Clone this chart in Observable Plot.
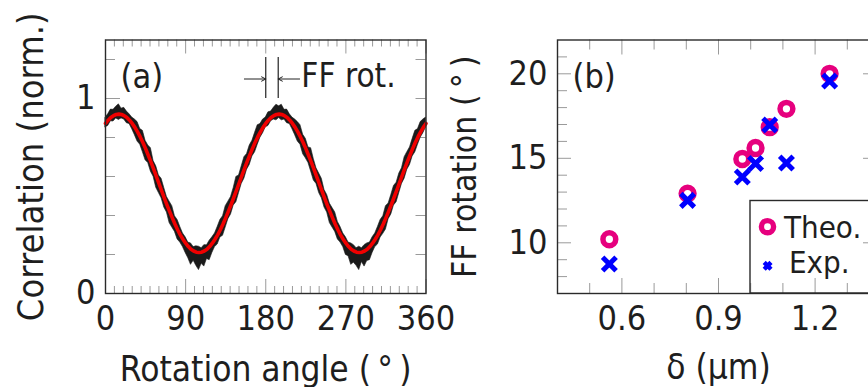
<!DOCTYPE html>
<html><head><meta charset="utf-8">
<script src="https://cdn.jsdelivr.net/npm/d3@7"></script>
<script src="https://cdn.jsdelivr.net/npm/@observablehq/plot@0.6"></script>
<style>
html,body{margin:0;padding:0;background:#fff;}
#wrap{position:relative;width:868px;height:387px;overflow:hidden;background:#fff;}
#pa,#pb,#leg{position:absolute;top:0;}
#pa{left:0;width:460px;height:387px;}
#pb{left:440px;width:460px;height:387px;}
#leg{left:0;width:868px;height:387px;pointer-events:none;}
svg{max-width:none !important;}
</style></head><body>
<div id="wrap"><div id="pa"></div><div id="pb"></div><svg id="leg" width="868" height="387"></svg></div>
<script>
// ---------- Panel (a) data ----------
const angleStep = 3; // sampling of rotation angle (deg)
const fitCorr = [
 0.872,0.889,0.903,0.912,0.918,0.920,0.918,0.912,0.903,0.889,
 0.872,0.852,0.829,0.803,0.774,0.743,0.709,0.675,0.639,0.602,
 0.565,0.528,0.491,0.455,0.421,0.388,0.356,0.327,0.301,0.278,
 0.258,0.241,0.227,0.218,0.212,0.210,0.212,0.218,0.227,0.241,
 0.258,0.278,0.301,0.327,0.356,0.388,0.421,0.455,0.491,0.528,
 0.565,0.602,0.639,0.675,0.709,0.743,0.774,0.803,0.829,0.852,
 0.872,0.889,0.903,0.912,0.918,0.920,0.918,0.912,0.903,0.889,
 0.872,0.852,0.829,0.803,0.774,0.743,0.709,0.675,0.639,0.602,
 0.565,0.528,0.491,0.455,0.421,0.388,0.356,0.327,0.301,0.278,
 0.258,0.241,0.227,0.218,0.212,0.210,0.212,0.218,0.227,0.241,
 0.258,0.278,0.301,0.327,0.356,0.388,0.421,0.455,0.491,0.528,
 0.565,0.602,0.639,0.675,0.709,0.743,0.774,0.803,0.829,0.852,
 0.872];
// measured-data spread above / below the fit (hundredths)
const spreadUp = [
 3,3,4,3,4,5,3,4,3,3,3,
 4,5,4,6,4,5,7,4,5,4,6,5,4,5,6,4,5,4,3,
 3,2,3,2,3,3,2,3,2,3,3,
 3,4,5,4,6,5,4,5,7,4,5,6,4,5,4,5,6,4,4,
 3,4,3,4,5,4,5,3,4,3,3,
 4,5,6,4,5,4,7,5,4,5,6,4,5,4,5,6,4,4,3,
 3,2,3,3,2,3,2,3,3,2,3,
 3,4,5,4,6,4,5,6,4,5,4,6,5,4,5,6,4,5,4,
 3];
const spreadDn = [
 2,3,2,3,2,3,2,2,3,2,3,
 4,5,4,5,6,4,5,4,6,5,4,5,4,6,5,4,5,4,4,
 5,6,8,5,7,9,6,8,5,7,5,
 4,5,4,6,5,4,5,4,6,5,4,5,4,5,4,5,4,3,3,
 2,3,2,2,3,2,3,2,3,2,3,
 4,5,4,6,5,4,5,6,4,5,4,5,4,6,5,4,5,4,4,
 6,5,8,6,7,9,5,8,6,7,5,
 4,5,4,5,6,4,5,4,6,5,4,5,4,5,4,5,4,3,3,
 2];
const xTickLabelsA = [0, 90, 180, 270, 360];
const yTickLabelsA = [0, 1];
const ffLines = [180, 194];            // far-field rotation markers (deg)
const ffArrows = [{x1: 156, x2: 180}, {x1: 218, x2: 194}];

// ---------- Panel (b) data ----------
const delta = [0.561, 0.804, 0.974, 1.015, 1.059, 1.111, 1.245];
const theo  = [10.21, 12.91, 14.96, 15.61, 16.84, 17.93, 20.00];
const expv  = [8.75, 12.51, 13.89, 14.69, 16.97, 14.72, 19.57];
const xTickLabelsB = [0.6, 0.9, 1.2];
const yTickLabelsB = [10, 15, 20];

const FONT = "DejaVu Sans Condensed, DejaVu Sans, sans-serif";
const TXT = "#1e1e1e", TICK = "#9a9a9a", FRAME = "#2a2a2a";
const MAG = "#e6007e", BLUE = "#0000ff";
const fmt = d => String(d);

// ---------- Panel (a) ----------
const rowsA = fitCorr.map((f, i) => ({
  a: i * angleStep, fit: f, hi: f + spreadUp[i] / 100, lo: f - spreadDn[i] / 100
}));
const A = {w: 460, h: 387, ml: 105, mr: 34.5, mt: 39.5, mb: 94};
const pwA = A.w - A.ml - A.mr, phA = A.h - A.mt - A.mb;
const minorXA = d3.range(10, 360, 10).filter(v => v % 90 !== 0);
const minorYA = [0.2, 0.4, 0.6, 0.8, 1.2];

const plotA = Plot.plot({
  width: A.w, height: A.h,
  marginLeft: A.ml, marginRight: A.mr, marginTop: A.mt, marginBottom: A.mb,
  x: {domain: [0, 360], axis: null},
  y: {domain: [0, 1.3], axis: null},
  style: {fontFamily: FONT, background: "transparent", overflow: "visible"},
  marks: [
    Plot.tickX(minorXA, {x: d => d, insetTop: phA - 7, stroke: TICK}),
    Plot.tickX(xTickLabelsA, {x: d => d, insetTop: phA - 14, stroke: TICK}),
    Plot.tickX(minorXA, {x: d => d, insetBottom: phA - 7, stroke: TICK}),
    Plot.tickX(xTickLabelsA, {x: d => d, insetBottom: phA - 14, stroke: TICK}),
    Plot.tickY(minorYA, {y: d => d, insetRight: pwA - 10, stroke: TICK}),
    Plot.tickY(yTickLabelsA, {y: d => d, insetRight: pwA - 15, stroke: TICK}),
    Plot.tickY(minorYA.concat(yTickLabelsA), {y: d => d, insetLeft: pwA - 10, stroke: TICK}),
    Plot.areaY(rowsA, {x: "a", y1: "lo", y2: "hi", fill: "#1a1a1a", stroke: "#1a1a1a", strokeWidth: 0.6}),
    Plot.line(rowsA, {x: "a", y: "fit", stroke: "#f00000", strokeWidth: 3.6}),
    Plot.ruleX(ffLines, {x: d => d, y1: 1.0, y2: 1.21, stroke: "#222", strokeWidth: 1.2}),
    Plot.arrow(ffArrows, {x1: "x1", x2: "x2", y1: 1.1, y2: 1.1, stroke: "#222", strokeWidth: 1, headLength: 7, headAngle: 55}),
    Plot.text(["FF rot."], {text: d => d, x: 220, y: 1.0615, textAnchor: "start", lineAnchor: "bottom", fontSize: 33, fill: TXT}),
    Plot.text(["(a)"], {text: d => d, frameAnchor: "top-left", dx: 15, dy: 48, textAnchor: "start", lineAnchor: "bottom", fontSize: 34, fill: TXT}),
    Plot.frame({stroke: FRAME, strokeWidth: 1.4}),
    Plot.axisX({ticks: xTickLabelsA, tickFormat: fmt, tickSize: 0, tickPadding: 12, fontSize: 34, fill: TXT, label: null}),
    Plot.axisY({ticks: yTickLabelsA, tickFormat: fmt, tickSize: 0, tickPadding: 10, fontSize: 34, fill: TXT, label: null}),
    Plot.text(["Rotation angle (\u2009°\u2009)"], {text: d => d, frameAnchor: "bottom", dy: 87, lineAnchor: "bottom", fontSize: 35, fill: TXT}),
    Plot.text(["Correlation (norm.)"], {text: d => d, frameAnchor: "left", dx: -63, rotate: -90, textAnchor: "middle", lineAnchor: "bottom", fontSize: 36, fill: TXT})
  ]
});
document.getElementById("pa").appendChild(plotA);

// ---------- Panel (b) ----------
const rowsB = delta.map((d, i) => ({d, theo: theo[i], exp: expv[i]}));
const B = {w: 460, h: 387, ml: 117, mr: 21, mt: 39.5, mb: 94};
const pwB = B.w - B.ml - B.mr, phB = B.h - B.mt - B.mb;
const minorXB = [0.5, 0.7, 0.8, 1.0, 1.1, 1.3];
const minorYB = d3.range(8, 22, 1).filter(v => v % 5 !== 0);

const plotB = Plot.plot({
  width: B.w, height: B.h,
  marginLeft: B.ml, marginRight: B.mr, marginTop: B.mt, marginBottom: B.mb,
  x: {domain: [0.4, 1.4], axis: null},
  y: {domain: [7, 22], axis: null},
  style: {fontFamily: FONT, background: "transparent", overflow: "visible"},
  marks: [
    Plot.tickX(minorXB, {x: d => d, insetTop: phB - 10, stroke: TICK}),
    Plot.tickX(xTickLabelsB, {x: d => d, insetTop: phB - 15, stroke: TICK}),
    Plot.tickX(minorXB, {x: d => d, insetBottom: phB - 10, stroke: TICK}),
    Plot.tickX(xTickLabelsB, {x: d => d, insetBottom: phB - 15, stroke: TICK}),
    Plot.tickY(minorYB, {y: d => d, insetRight: pwB - 10, stroke: TICK}),
    Plot.tickY(yTickLabelsB, {y: d => d, insetRight: pwB - 14, stroke: TICK}),
    Plot.tickY(minorYB, {y: d => d, insetLeft: pwB - 10, stroke: TICK}),
    Plot.tickY(yTickLabelsB, {y: d => d, insetLeft: pwB - 16, stroke: TICK}),
    Plot.dot(rowsB, {x: "d", y: "theo", r: 6.4, stroke: MAG, strokeWidth: 5.5, fill: "none"}),
    Plot.dot(rowsB, {x: "d", y: "exp", symbol: "times", r: 6.2, stroke: BLUE, strokeWidth: 5}),
    Plot.text(["(b)"], {text: d => d, frameAnchor: "top-left", dx: 15, dy: 48, textAnchor: "start", lineAnchor: "bottom", fontSize: 34, fill: TXT}),
    Plot.frame({stroke: FRAME, strokeWidth: 1.4}),
    Plot.axisX({ticks: xTickLabelsB, tickFormat: fmt, tickSize: 0, tickPadding: 12, fontSize: 34, fill: TXT, label: null}),
    Plot.axisY({ticks: yTickLabelsB, tickFormat: fmt, tickSize: 0, tickPadding: 10, fontSize: 34, fill: TXT, label: null}),
    Plot.text(["δ (μm)"], {text: d => d, frameAnchor: "bottom", dy: 85, lineAnchor: "bottom", fontSize: 35, fill: TXT}),
    Plot.text(["FF rotation (\u2009°\u2009)"], {text: d => d, frameAnchor: "left", dx: -82, rotate: -90, textAnchor: "middle", lineAnchor: "bottom", fontSize: 33.5, fill: TXT})
  ]
});
document.getElementById("pb").appendChild(plotB);

// ---------- Legend (panel b) ----------
const leg = d3.select("#leg").style("font-family", FONT);
leg.append("rect").attr("x", 750).attr("y", 200.5).attr("width", 140).attr("height", 92.5)
  .attr("fill", "none").attr("stroke", FRAME).attr("stroke-width", 1.4);
leg.append("circle").attr("cx", 767.5).attr("cy", 226.7).attr("r", 6.1)
  .attr("fill", "none").attr("stroke", MAG).attr("stroke-width", 5.4);
leg.append("path").attr("d", "M764.2,262.4L771,269.2M771,262.4L764.2,269.2")
  .attr("stroke", BLUE).attr("stroke-width", 4.4).attr("fill", "none");
leg.append("text").attr("x", 784).attr("y", 237.5).attr("font-size", 31).attr("fill", TXT).text("Theo.");
leg.append("text").attr("x", 789).attr("y", 272.5).attr("font-size", 31).attr("fill", TXT).text("Exp.");
</script>
</body></html>
